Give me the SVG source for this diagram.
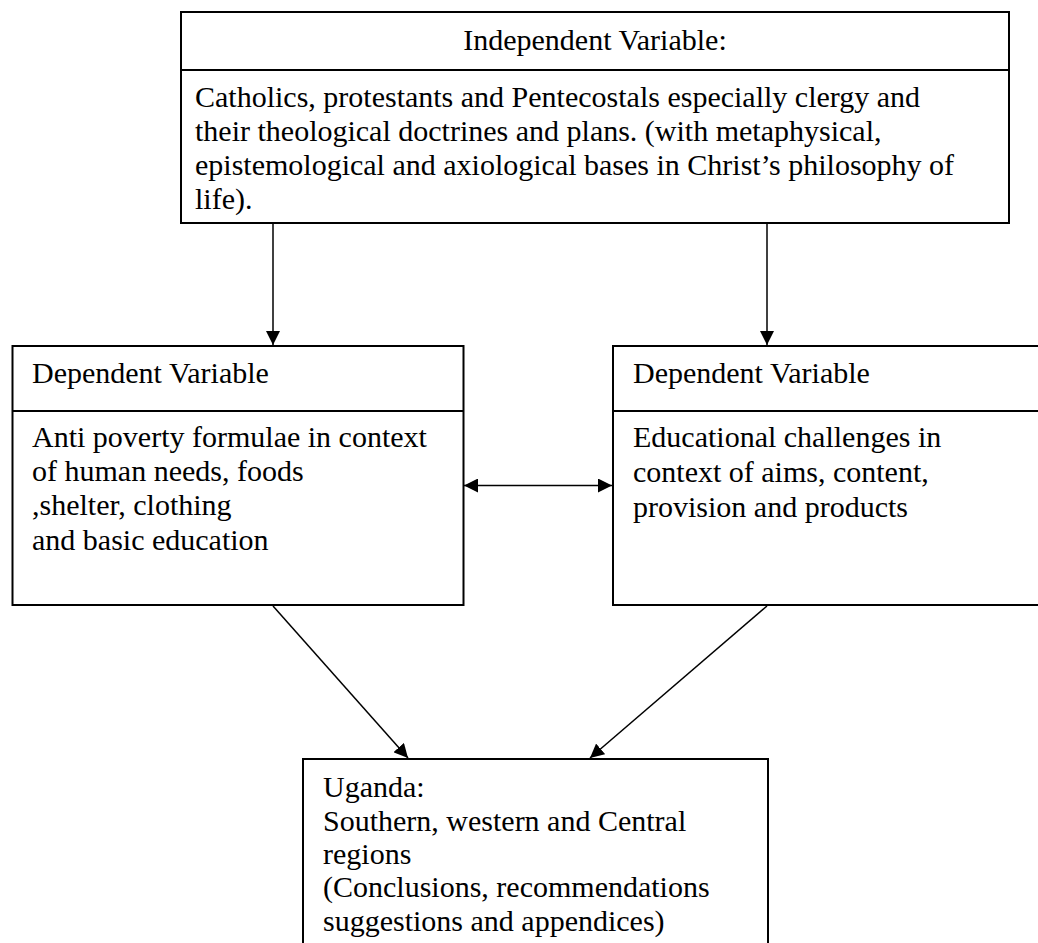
<svg xmlns="http://www.w3.org/2000/svg" width="1038" height="943" viewBox="0 0 1038 943">
<defs>
<style>
.box{fill:#fff;stroke:#000;stroke-width:2}
.div{stroke:#000;stroke-width:2}
.t{font-family:"Liberation Serif","Times New Roman",serif;font-size:30px;fill:#000}
.c{stroke:#000;stroke-width:1.5;fill:none}
</style>
<marker id="ah" viewBox="0 0 14 14" refX="14" refY="7" markerWidth="14" markerHeight="14" markerUnits="userSpaceOnUse" orient="auto-start-reverse">
<path d="M0,0 L14,7 L0,14 z" fill="#000"/>
</marker>
</defs>
<rect width="1038" height="943" fill="#fff"/>
<g id="connectors">
<line class="c" x1="273" y1="223" x2="273" y2="345" marker-end="url(#ah)"/>
<line class="c" x1="767" y1="223" x2="767" y2="345" marker-end="url(#ah)"/>
<line class="c" x1="464" y1="485.5" x2="612" y2="485.5" marker-start="url(#ah)" marker-end="url(#ah)"/>
<line class="c" x1="273" y1="606" x2="408" y2="758" marker-end="url(#ah)"/>
<line class="c" x1="767" y1="606" x2="590" y2="758" marker-end="url(#ah)"/>
</g>
<g id="independent">
<rect class="box" x="181" y="12" width="828" height="211"/>
<line class="div" x1="181" y1="70" x2="1009" y2="70"/>
<text class="t" x="595" y="50" text-anchor="middle">Independent Variable:</text>
<text class="t" x="195" y="107">Catholics, protestants and Pentecostals especially clergy and</text>
<text class="t" x="195" y="141">their theological doctrines and plans. (with metaphysical,</text>
<text class="t" x="195" y="175">epistemological and axiological bases in Christ’s philosophy of</text>
<text class="t" x="195" y="209">life).</text>
</g>
<g id="dependent-left">
<rect class="box" x="12.5" y="346" width="451" height="259"/>
<line class="div" x1="12.5" y1="411" x2="463.5" y2="411"/>
<text class="t" x="32" y="383">Dependent Variable</text>
<text class="t" x="32" y="447">Anti poverty formulae in context</text>
<text class="t" x="32" y="481">of human needs, foods</text>
<text class="t" x="32" y="515">,shelter, clothing</text>
<text class="t" x="32" y="550">and basic education</text>
</g>
<g id="dependent-right">
<rect class="box" x="613" y="346" width="440" height="259"/>
<line class="div" x1="613" y1="411" x2="1038" y2="411"/>
<text class="t" x="633" y="383">Dependent Variable</text>
<text class="t" x="633" y="447">Educational challenges in</text>
<text class="t" x="633" y="482">context of aims, content,</text>
<text class="t" x="633" y="517">provision and products</text>
</g>
<g id="uganda">
<rect class="box" x="303" y="759" width="465" height="200"/>
<text class="t" x="323" y="797">Uganda:</text>
<text class="t" x="323" y="831">Southern, western and Central</text>
<text class="t" x="323" y="864">regions</text>
<text class="t" x="323" y="897">(Conclusions, recommendations</text>
<text class="t" x="323" y="931">suggestions and appendices)</text>
</g>
</svg>
